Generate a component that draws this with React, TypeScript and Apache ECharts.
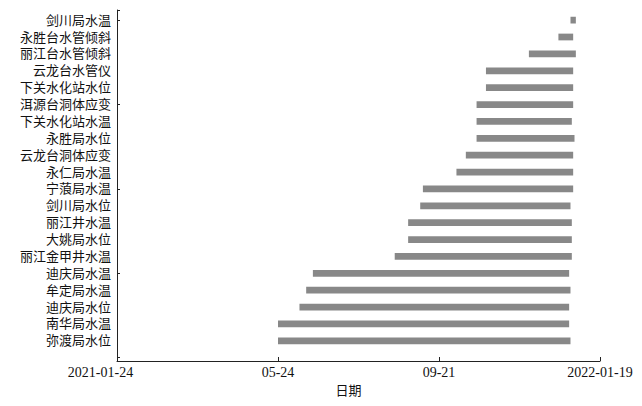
import React, { useEffect, useRef } from "react";
import * as echarts from "echarts";

const categories = [
  "剑川局水温",
  "永胜台水管倾斜",
  "丽江台水管倾斜",
  "云龙台水管仪",
  "下关水化站水位",
  "洱源台洞体应变",
  "下关水化站水温",
  "永胜局水位",
  "云龙台洞体应变",
  "永仁局水温",
  "宁蒗局水温",
  "剑川局水位",
  "丽江井水温",
  "大姚局水位",
  "丽江金甲井水温",
  "迪庆局水温",
  "牟定局水温",
  "迪庆局水位",
  "南华局水温",
  "弥渡局水位",
];

const startDates = [
  "2021-12-28",
  "2021-12-19",
  "2021-11-27",
  "2021-10-26",
  "2021-10-26",
  "2021-10-19",
  "2021-10-19",
  "2021-10-19",
  "2021-10-11",
  "2021-10-04",
  "2021-09-09",
  "2021-09-07",
  "2021-08-29",
  "2021-08-29",
  "2021-08-19",
  "2021-06-19",
  "2021-06-14",
  "2021-06-09",
  "2021-05-24",
  "2021-05-24",
];

const endDates = [
  "2022-01-01",
  "2021-12-30",
  "2022-01-01",
  "2021-12-30",
  "2021-12-30",
  "2021-12-30",
  "2021-12-29",
  "2021-12-31",
  "2021-12-30",
  "2021-12-30",
  "2021-12-30",
  "2021-12-28",
  "2021-12-29",
  "2021-12-29",
  "2021-12-29",
  "2021-12-27",
  "2021-12-28",
  "2021-12-27",
  "2021-12-27",
  "2021-12-28",
];

const axisStart = "2021-01-24";
const axisEnd = "2022-01-19";
const tickStepDays = 120;

const DAY = 86400000;
function toUTC(s: string): number {
  const [y, m, d] = s.split("-").map(Number);
  return Date.UTC(y, m - 1, d);
}
const base = toUTC(axisStart);
function toDays(s: string): number {
  return Math.round((toUTC(s) - base) / DAY);
}
function pad(n: number) {
  return n < 10 ? "0" + n : "" + n;
}
function fmtDays(v: number): string {
  const dt = new Date(base + Math.round(v) * DAY);
  const y = dt.getUTCFullYear();
  const m = dt.getUTCMonth() + 1;
  const d = dt.getUTCDate();
  if (Math.round(v) === 0 || m === 1) return `${y}-${pad(m)}-${pad(d)}`;
  return `${pad(m)}-${pad(d)}`;
}

const FONT = "'Liberation Serif', 'Noto Sans CJK SC', serif";

export default function App() {
  const ref = useRef<HTMLDivElement>(null);
  useEffect(() => {
    if (!ref.current) return;
    const chart = echarts.init(ref.current, null, { renderer: "svg" });
    const data = categories.map((_, i) => [i, toDays(startDates[i]), toDays(endDates[i])]);
    const maxDays = toDays(axisEnd);
    const idx = categories.map((_, i) => i);
    chart.setOption({
      animation: false,
      backgroundColor: "#fff",
      grid: { left: 117, right: 42, top: 10, bottom: 45 },
      xAxis: {
        type: "value",
        min: 0,
        max: maxDays,
        interval: tickStepDays,
        name: "日期",
        nameLocation: "middle",
        nameGap: 23,
        nameTextStyle: {
          fontFamily: FONT,
          fontSize: 13,
          color: "#111",
          padding: [0, 20, 0, 0],
        },
        splitLine: { show: false },
        axisLine: { show: true, onZero: false, lineStyle: { color: "#222", width: 1 } },
        axisTick: { show: true, inside: true, length: 4, lineStyle: { color: "#222" } },
        axisLabel: {
          fontFamily: FONT,
          fontSize: 14,
          color: "#111",
          margin: 4,
          formatter: (v: number) => {
            const t = fmtDays(v);
            return v === 0 ? `{a|${t}}` : t;
          },
          rich: {
            a: {
              fontFamily: FONT,
              fontSize: 14,
              color: "#111",
              padding: [0, 33, 0, 0],
            },
          },
        },
      },
      yAxis: {
        type: "value",
        inverse: true,
        min: -0.6,
        max: 20.2,
        splitLine: { show: false },
        axisLine: { show: true, lineStyle: { color: "#222", width: 1 } },
        axisTick: {
          show: true,
          inside: true,
          length: 3,
          lineStyle: { color: "#222" },
        },
        axisLabel: {
          fontFamily: FONT,
          fontSize: 13,
          color: "#111",
          margin: 6,
          customValues: idx,
          formatter: (v: number) => categories[Math.round(v)] ?? "",
        },
      },
      series: [
        {
          type: "custom",
          encode: { x: [1, 2], y: 0 },
          data,
          renderItem: (params: any, api: any) => {
            const y = api.value(0);
            const p1 = api.coord([api.value(1), y]);
            const p2 = api.coord([api.value(2), y]);
            const h = api.size([0, 0.4])[1];
            return {
              type: "rect",
              shape: { x: p1[0], y: p1[1] - h / 2, width: p2[0] - p1[0], height: h },
              style: { fill: "#888888" },
            };
          },
        },
      ],
    });
    return () => chart.dispose();
  }, []);
  return (
    <div
      ref={ref}
      style={{ position: "fixed", left: 0, top: 0, width: 642, height: 406 }}
    />
  );
}
